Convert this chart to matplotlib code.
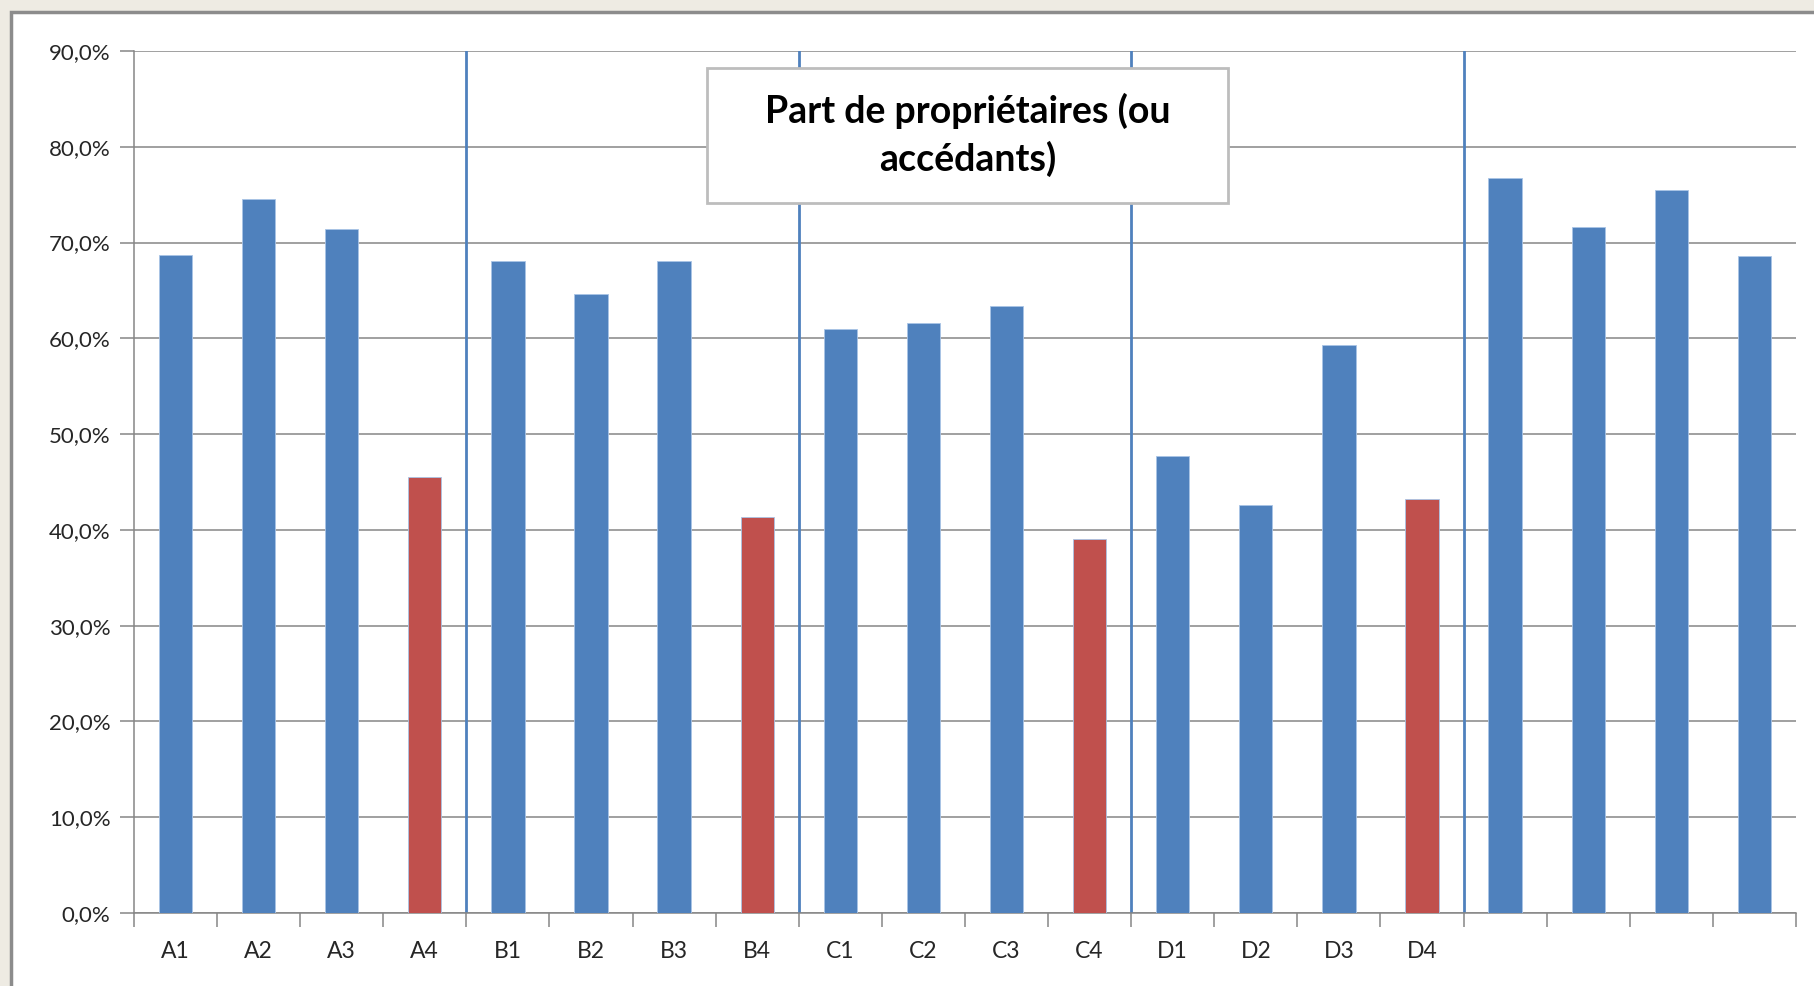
import matplotlib
matplotlib.use('Agg')
import matplotlib.pyplot as plt
from matplotlib.patches import Rectangle
from matplotlib.ticker import FuncFormatter, MultipleLocator

plt.rcParams['font.family'] = ['Lato', 'DejaVu Sans']

# data (share of owners, %)
categories = ['A1', 'A2', 'A3', 'A4', 'B1', 'B2', 'B3', 'B4',
              'C1', 'C2', 'C3', 'C4', 'D1', 'D2', 'D3', 'D4',
              'E1', 'E2', 'E3', 'E4']
tick_labels = ['A1', 'A2', 'A3', 'A4', 'B1', 'B2', 'B3', 'B4',
               'C1', 'C2', 'C3', 'C4', 'D1', 'D2', 'D3', 'D4',
               '', '', '', '']
values = [68.7, 74.5, 71.4, 45.5, 68.1, 64.6, 68.1, 41.3,
          61.0, 61.6, 63.4, 39.1, 47.7, 42.6, 59.3, 43.2,
          76.7, 71.6, 75.5, 68.6]
highlight = ['A4', 'B4', 'C4', 'D4']
group_size = 4

blue = '#4F81BD'
red = '#C0504D'
grey = '#868686'

fig = plt.figure(figsize=(18.15, 9.86), dpi=100, facecolor='#EEEBE3')
# white chart area with grey frame
fig.patches.append(Rectangle((11 / 1815, -0.05), 1.1, 1 - 12 / 986 + 0.05,
                             transform=fig.transFigure, facecolor='white',
                             edgecolor='#8C8C8C', linewidth=2.5, zorder=-10))

ax = fig.add_axes([0.0738, 0.074, 0.9157, 0.8743])
ax.set_facecolor('none')

x = list(range(len(categories)))
colors = [red if c in highlight else blue for c in categories]
ax.bar(x, values, width=0.4, color=colors, edgecolor='#A9C4E6',
       linewidth=0.6, zorder=3)

ax.set_xlim(-0.5, len(categories) - 0.5)
ax.set_ylim(0, 90)
ax.yaxis.set_major_locator(MultipleLocator(10))
ax.yaxis.set_major_formatter(FuncFormatter(lambda v, p: f'{v:.1f}%'.replace('.', ',')))
ax.grid(axis='y', color=grey, linewidth=1.1, zorder=1)
ax.set_axisbelow(True)

# group separators
for b in range(group_size, len(categories), group_size):
    ax.axvline(b - 0.5, color=blue, linewidth=2, zorder=2)

# category labels centred, tick marks at boundaries
ax.set_xticks(x)
ax.set_xticklabels(tick_labels, fontsize=16.5, color='#262626')
ax.set_xticks([i - 0.5 for i in range(len(categories) + 1)], minor=True)
ax.tick_params(axis='x', which='major', length=0, pad=20)
ax.tick_params(axis='x', which='minor', length=10, color=grey, width=1.1)
ax.tick_params(axis='y', length=10, color=grey, width=1.1, labelsize=16,
               labelcolor='#262626', pad=7)

for s in ['top', 'right']:
    ax.spines[s].set_visible(False)
for s in ['left', 'bottom']:
    ax.spines[s].set_color(grey)
    ax.spines[s].set_linewidth(1.1)

# title box
ax.add_patch(Rectangle((0.345, 0.824), 0.313, 0.156, transform=ax.transAxes,
                       facecolor='white', edgecolor='#BDBDBD', linewidth=2,
                       zorder=5))
ax.text(0.5015, 0.903, 'Part de propriétaires (ou\naccédants)',
        transform=ax.transAxes, ha='center', va='center', fontsize=27,
        fontweight='bold', linespacing=1.4, zorder=6)

fig.savefig('out.png', dpi=100, facecolor=fig.get_facecolor())
